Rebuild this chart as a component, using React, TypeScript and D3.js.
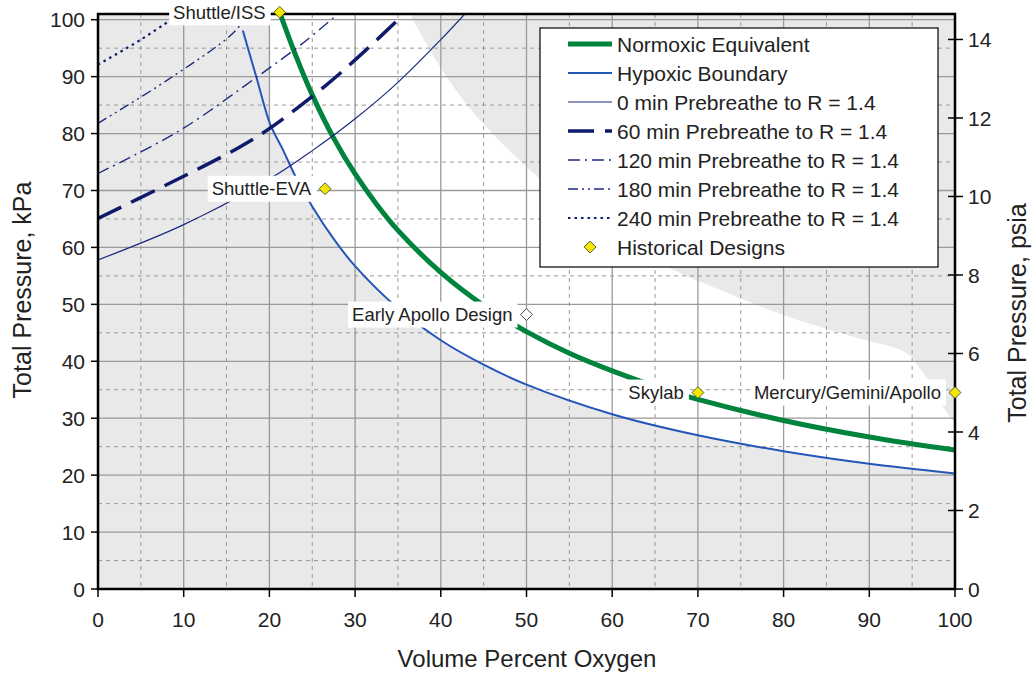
import React, { useEffect, useRef } from 'react';
import * as d3 from 'd3';

// curves: [percent O2, kPa]
const normoxic: [number, number][] = [
  [21.2, 101.3], [23, 94], [25, 86.8], [27.5, 79.2], [30, 72.9], [32.5, 67.6], [35, 63],
  [40, 55.6], [45, 49.8], [50, 45.2], [55, 41.4], [60, 38.3], [65, 35.6], [70, 33.3],
  [80, 29.6], [90, 26.7], [100, 24.4],
];
const hypoxic: [number, number][] = [
  [16.9, 98.1], [18.5, 89.8], [20.1, 81.6], [21.5, 77.4], [23, 72.6], [25, 67.2],
  [27.5, 61.5], [30, 56.7], [35, 49.3], [40, 43.7], [45, 39.4], [50, 35.9], [60, 30.7],
  [70, 27], [80, 24.2], [90, 22], [100, 20.3],
];
const pb0: [number, number][] = [
  [0, 57.8], [10, 64], [20, 72], [25, 77], [30, 82.6], [35, 89], [40, 96.5], [42.8, 101],
];
const pb60: [number, number][] = [
  [0, 65.1], [8, 71], [16.5, 77.6], [20.5, 81.4], [26.7, 88.6], [31, 94.3], [35.7, 101],
];
const pb120: [number, number][] = [[0, 73], [9.5, 80.5], [18.7, 90.1], [24, 96], [28, 101]];
const pb180: [number, number][] = [[0, 81.8], [8, 89.3], [15.8, 97.7], [17.5, 101]];
const pb240: [number, number][] = [[0, 92.1], [5, 96.5], [9.5, 101]];

// edge of the shaded upper-right region
const fireEdge: [number, number][] = [
  [36.4, 101], [40, 91.5], [44.3, 82.8], [52, 71.5], [58, 64.5], [66, 56.9], [72.6, 52.5],
  [80.4, 47.9], [88.1, 44.3], [94.4, 41.4], [96, 38.5], [97.4, 35.5], [98.6, 32], [100, 29.5],
];

const designs = [
  { name: 'Shuttle/ISS', o2: 21.2, kpa: 101.3, hollow: false },
  { name: 'Shuttle-EVA', o2: 26.5, kpa: 70.3, hollow: false },
  { name: 'Early Apollo Design', o2: 50, kpa: 48.2, hollow: true },
  { name: 'Skylab', o2: 70, kpa: 34.5, hollow: false },
  { name: 'Mercury/Gemini/Apollo', o2: 100, kpa: 34.5, hollow: false },
];

const xTicks = d3.range(0, 101, 10);
const yTicks = d3.range(0, 101, 10);
const psiTicks = d3.range(0, 15, 2);

const legendItems = [
  { label: 'Normoxic Equivalent', stroke: '#00843d', width: 5, dash: null },
  { label: 'Hypoxic Boundary', stroke: '#2455b8', width: 2, dash: null },
  { label: '0 min Prebreathe to R = 1.4', stroke: '#1c2a80', width: 1.2, dash: null },
  { label: '60 min Prebreathe to R = 1.4', stroke: '#0e1a6a', width: 3.5, dash: '26,11' },
  { label: '120 min Prebreathe to R = 1.4', stroke: '#1c2a80', width: 1.4, dash: '12,5,2,5' },
  { label: '180 min Prebreathe to R = 1.4', stroke: '#1c2a80', width: 1.4, dash: '10,4,2,4,2,4' },
  { label: '240 min Prebreathe to R = 1.4', stroke: '#0e1a6a', width: 2.2, dash: '2.5,4' },
];
const curves = [normoxic, hypoxic, pb0, pb60, pb120, pb180, pb240];

const FONT = '"Liberation Sans", Arial, sans-serif';

export default function App() {
  const ref = useRef<SVGSVGElement | null>(null);

  useEffect(() => {
    const svg = d3.select(ref.current);
    svg.selectAll('*').remove();

    const x = d3.scaleLinear().domain([0, 100]).range([98, 955]);
    const y = d3.scaleLinear().domain([0, 101]).range([589, 14]);
    const yPsi = d3.scaleLinear().domain([0, 101 / 6.89476]).range([589, 14]);

    svg.append('defs').append('clipPath').attr('id', 'plot')
      .append('rect').attr('x', 98).attr('y', 14).attr('width', 857).attr('height', 575);

    const g = svg.append('g').attr('clip-path', 'url(#plot)');
    g.append('rect').attr('x', 98).attr('y', 14).attr('width', 857).attr('height', 575).attr('fill', '#fff');

    const area = d3.line<[number, number]>().x(d => x(d[0])).y(d => y(d[1]))
      .curve(d3.curveCatmullRom.alpha(0.5));
    const hypoxicRegion: [number, number][] = [
      [0, 0], [0, 101], [20.1, 101],
      ...hypoxic.filter(d => d[0] >= 20.1),
      [100, 0],
    ];
    g.append('path').attr('d', d3.line<[number, number]>().x(d => x(d[0])).y(d => y(d[1]))(hypoxicRegion) + 'Z')
      .attr('fill', '#e9e9e9');
    const fireRegion: [number, number][] = [...fireEdge, [100, 101]];
    g.append('path').attr('d', area(fireRegion) + 'Z').attr('fill', '#e9e9e9');

    // grid
    d3.range(5, 100, 10).forEach(v => {
      g.append('line').attr('x1', x(v)).attr('x2', x(v)).attr('y1', 14).attr('y2', 589)
        .attr('stroke', '#999').attr('stroke-dasharray', '4,4');
      g.append('line').attr('y1', y(v)).attr('y2', y(v)).attr('x1', 98).attr('x2', 955)
        .attr('stroke', '#999').attr('stroke-dasharray', '4,4');
    });
    d3.range(10, 100, 10).forEach(v => {
      g.append('line').attr('x1', x(v)).attr('x2', x(v)).attr('y1', 14).attr('y2', 589)
        .attr('stroke', '#9a9a9a').attr('stroke-width', 1.3);
    });
    d3.range(10, 101, 10).forEach(v => {
      g.append('line').attr('y1', y(v)).attr('y2', y(v)).attr('x1', 98).attr('x2', 955)
        .attr('stroke', '#9a9a9a').attr('stroke-width', 1.3);
    });

    // curves
    const line = d3.line<[number, number]>()
      .x(d => x(d[0])).y(d => y(d[1]))
      .curve(d3.curveCatmullRom.alpha(0.5));
    curves.forEach((c, i) => {
      const s = legendItems[i];
      g.append('path').attr('d', line(c)).attr('fill', 'none')
        .attr('stroke', s.stroke).attr('stroke-width', s.width)
        .attr('stroke-dasharray', s.dash);
    });

    // frame and axes
    svg.append('rect').attr('x', 98).attr('y', 14).attr('width', 857).attr('height', 575)
      .attr('fill', 'none').attr('stroke', '#000').attr('stroke-width', 2.5);

    const axisText = (sel: any) => sel.attr('font-family', FONT).attr('font-size', 21).attr('fill', '#222');
    xTicks.forEach(v => {
      svg.append('line').attr('x1', x(v)).attr('x2', x(v)).attr('y1', 589).attr('y2', 597).attr('stroke', '#000').attr('stroke-width', 1.5);
      axisText(svg.append('text').attr('x', x(v)).attr('y', 627).attr('text-anchor', 'middle').text(v));
    });
    yTicks.forEach(v => {
      svg.append('line').attr('x1', 91).attr('x2', 98).attr('y1', y(v)).attr('y2', y(v)).attr('stroke', '#000').attr('stroke-width', 1.5);
      axisText(svg.append('text').attr('x', 85).attr('y', y(v)).attr('dy', '0.36em').attr('text-anchor', 'end').text(v));
    });
    psiTicks.forEach(v => {
      svg.append('line').attr('x1', 948).attr('x2', 963).attr('y1', yPsi(v)).attr('y2', yPsi(v)).attr('stroke', '#000').attr('stroke-width', 1.5);
      axisText(svg.append('text').attr('x', 968).attr('y', yPsi(v)).attr('dy', '0.36em').text(v));
    });

    const title = (sel: any) => sel.attr('font-family', FONT).attr('font-size', 25).attr('fill', '#222').attr('text-anchor', 'middle');
    title(svg.append('text').attr('x', 527).attr('y', 667).text('Volume Percent Oxygen'))
      .attr('font-size', 24);
    title(svg.append('text').attr('transform', 'translate(31,290) rotate(-90)').text('Total Pressure, kPa'));
    title(svg.append('text').attr('transform', 'translate(1026,313) rotate(-90)').text('Total Pressure, psia'));

    // legend
    const lg = svg.append('g');
    lg.append('rect').attr('x', 540).attr('y', 28).attr('width', 398).attr('height', 239)
      .attr('fill', '#fff').attr('stroke', '#000').attr('stroke-width', 1.2);
    legendItems.forEach((s, i) => {
      const yy = 44 + i * 29;
      lg.append('line').attr('x1', 568).attr('x2', 612).attr('y1', yy).attr('y2', yy)
        .attr('stroke', s.stroke).attr('stroke-width', s.width).attr('stroke-dasharray', s.dash);
      lg.append('text').attr('x', 617).attr('y', yy).attr('dy', '0.36em')
        .attr('font-family', FONT).attr('font-size', 21).attr('fill', '#222').text(s.label);
    });
    const diamond = d3.symbol().type(d3.symbolDiamond2).size(90);
    lg.append('path').attr('d', diamond()).attr('transform', 'translate(590,247)')
      .attr('fill', '#f5e800').attr('stroke', '#333').attr('stroke-width', 0.8);
    lg.append('text').attr('x', 617).attr('y', 247).attr('dy', '0.36em')
      .attr('font-family', FONT).attr('font-size', 21).attr('fill', '#222').text('Historical Designs');

    // historical design labels and markers
    designs.forEach(d => {
      const px = x(d.o2), py = y(d.kpa);
      const t = svg.append('text').attr('x', px - 14).attr('y', py).attr('dy', '0.36em')
        .attr('text-anchor', 'end').attr('font-family', FONT).attr('font-size', 18.5).attr('fill', '#222')
        .text(d.name);
      const bb = (t.node() as SVGTextElement).getBBox();
      svg.insert('rect', () => t.node())
        .attr('x', bb.x - 4).attr('y', py - 13).attr('width', bb.width + 9).attr('height', 26)
        .attr('fill', '#fff');
      svg.append('path').attr('d', diamond()).attr('transform', `translate(${px},${py})`)
        .attr('fill', d.hollow ? '#fff' : '#f5e800').attr('stroke', d.hollow ? '#444' : '#333')
        .attr('stroke-width', d.hollow ? 1 : 0.8);
    });
  }, []);

  return (
    <svg ref={ref} width={1034} height={675}
      style={{ position: 'absolute', left: 0, top: 0, background: '#fff' }} />
  );
}
